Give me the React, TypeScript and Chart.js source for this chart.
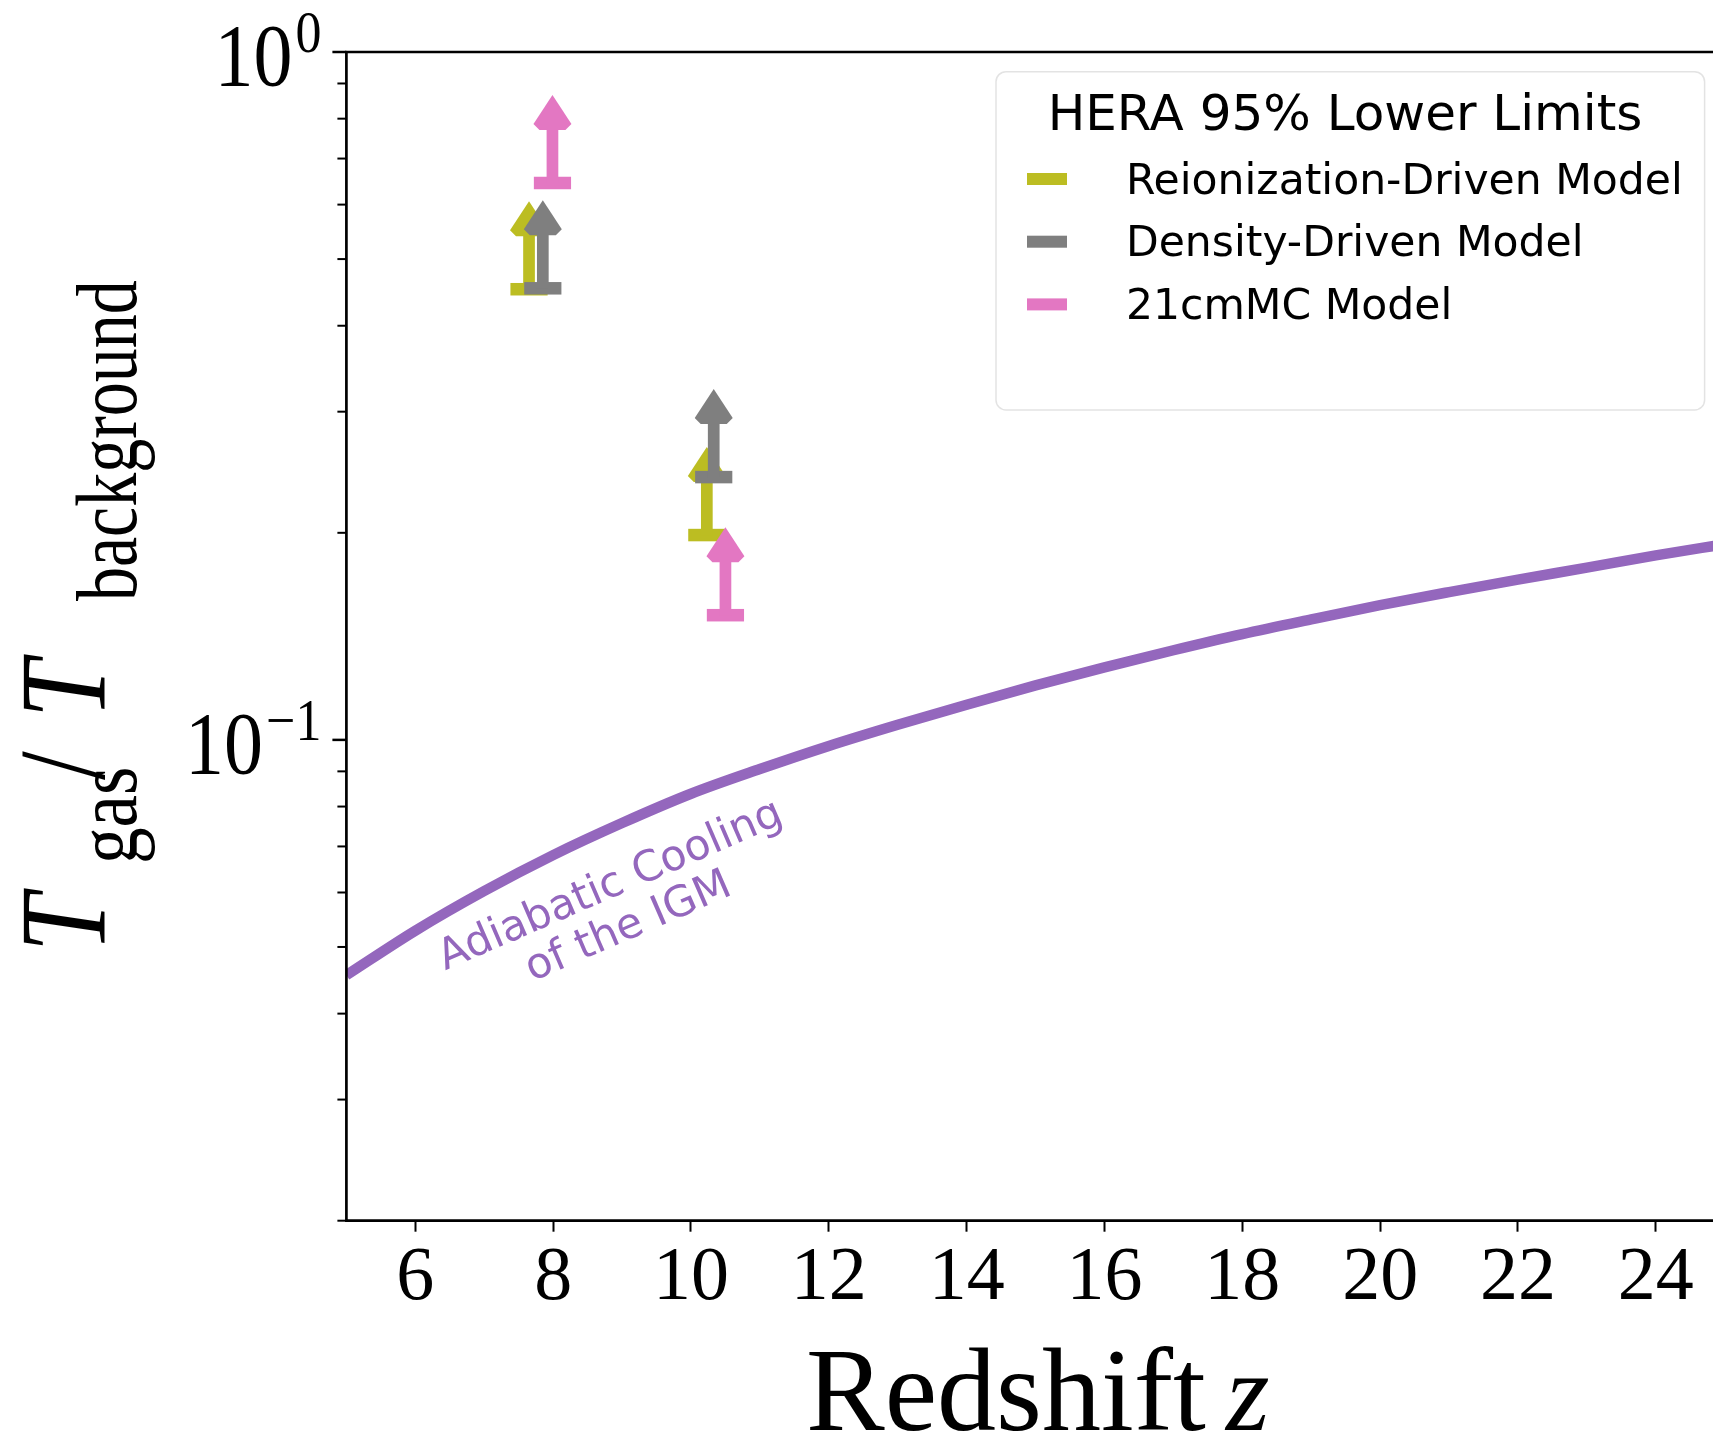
import React, { useEffect, useRef } from 'react';
import { Chart, registerables } from 'chart.js';

Chart.register(...registerables);

// ---------------- data ----------------
const CURVE_Z = [5, 6, 7, 8, 9, 10, 11, 12, 13, 14, 15, 16, 17, 18, 19, 20, 21, 22, 23, 24, 25];
const CURVE_RATIO = [0.0455, 0.0528, 0.0603, 0.068, 0.0757, 0.0835, 0.0907, 0.098, 0.1052, 0.1125, 0.12, 0.1275, 0.135, 0.1425, 0.1497, 0.157, 0.164, 0.171, 0.178, 0.1855, 0.1925];
const CURVE_LABEL_LINES = ['Adiabatic Cooling', 'of the IGM'];
const CURVE_LABEL_Z = 8.9;
const CURVE_LABEL_RATIO = 0.0592;

const REION_Z = [7.65, 10.23];
const REION_LOWER = [0.452, 0.1985];
const DENSITY_Z = [7.85, 10.33];
const DENSITY_LOWER = [0.4534, 0.241];
const MC_Z = [7.99, 10.5];
const MC_LOWER = [0.645, 0.1518];

const SERIES_NAMES = ['Reionization-Driven Model', 'Density-Driven Model', '21cmMC Model'];
const SERIES_COLORS = ['#bcbd22', '#7f7f7f', '#e377c2'];
const CURVE_COLOR = '#9467bd';
const LEGEND_TITLE = 'HERA 95% Lower Limits';

const X_MIN = 5;
const X_MAX = 24.83;
const Y_MIN = 0.02;
const Y_MAX = 1;
const X_TICKS = [6, 8, 10, 12, 14, 16, 18, 20, 22, 24];
const Y_MAJOR_TICKS = [0.1, 1];
const Y_MAJOR_LABELS = [['10', '\u22121'], ['10', '0']];
const Y_MINOR_TICKS = [0.02, 0.03, 0.04, 0.05, 0.06, 0.07, 0.08, 0.09, 0.2, 0.3, 0.4, 0.5, 0.6, 0.7, 0.8, 0.9];
const X_TITLE = 'Redshift';
const X_TITLE_VAR = 'z';
const Y_TITLE_PARTS = ['T', 'gas', '/', 'T', 'background'];

// ---------------- styles ----------------
const W = 1713;
const H = 1438;
const SERIF = '"Liberation Serif", "Times New Roman", serif';
const SANS = '"DejaVu Sans", "Noto Sans", sans-serif';
const ARROW = { length: 88, headLen: 29, headHalf: 19, notch: 6, stem: 11.7, capHalf: 18.6, capH: 12.5 };

function drawLimit(ctx: CanvasRenderingContext2D, px: number, py: number, color: string) {
  const a = ARROW;
  ctx.save();
  ctx.fillStyle = color;
  ctx.fillRect(px - a.capHalf, py - a.capH / 2, a.capHalf * 2, a.capH);
  ctx.fillRect(px - a.stem / 2, py - a.length + a.headLen, a.stem, a.length - a.headLen);
  ctx.beginPath();
  ctx.moveTo(px, py - a.length);
  ctx.lineTo(px + a.headHalf, py - a.length + a.headLen);
  ctx.lineTo(px + a.headHalf - a.notch, py - a.length + a.headLen + a.notch);
  ctx.lineTo(px - a.headHalf + a.notch, py - a.length + a.headLen + a.notch);
  ctx.lineTo(px - a.headHalf, py - a.length + a.headLen);
  ctx.closePath();
  ctx.fill();
  ctx.restore();
}

const overlay = {
  id: 'overlay',
  afterDatasetsDraw(chart: any) {
    const ctx: CanvasRenderingContext2D = chart.ctx;
    chart.data.datasets.forEach((ds: any, i: number) => {
      if (!ds.isLimit) return;
      const meta = chart.getDatasetMeta(i);
      meta.data.forEach((pt: any) => drawLimit(ctx, pt.x, pt.y, ds.borderColor));
    });
  },
  afterDraw(chart: any) {
    const ctx: CanvasRenderingContext2D = chart.ctx;
    const ca = chart.chartArea;
    const y = chart.scales.y;
    ctx.save();
    // spines
    ctx.strokeStyle = '#000';
    ctx.lineWidth = 2.7;
    ctx.lineCap = 'square';
    ctx.beginPath();
    ctx.moveTo(ca.right, ca.top);
    ctx.lineTo(ca.left, ca.top);
    ctx.lineTo(ca.left, ca.bottom);
    ctx.lineTo(ca.right, ca.bottom);
    ctx.stroke();
    ctx.lineCap = 'butt';
    // y ticks
    ctx.lineWidth = 2;
    Y_MINOR_TICKS.forEach((v) => {
      const py = y.getPixelForValue(v);
      ctx.beginPath();
      ctx.moveTo(ca.left, py);
      ctx.lineTo(ca.left - 9, py);
      ctx.stroke();
    });
    ctx.lineWidth = 2.5;
    Y_MAJOR_TICKS.forEach((v, i) => {
      const py = y.getPixelForValue(v);
      ctx.beginPath();
      ctx.moveTo(ca.left, py);
      ctx.lineTo(ca.left - 14, py);
      ctx.stroke();
      const [base, exp] = Y_MAJOR_LABELS[i];
      ctx.save();
      ctx.fillStyle = '#000';
      ctx.textBaseline = 'alphabetic';
      ctx.textAlign = 'right';
      const right = ca.left - 25;
      ctx.translate(0, py + 33);
      ctx.scale(1, 1.13);
      ctx.font = `52px ${SERIF}`;
      const ew = ctx.measureText(exp).width;
      ctx.fillText(exp, right, -29);
      ctx.font = `78px ${SERIF}`;
      ctx.fillText(base, right - ew - 3, 0);
      ctx.restore();
    });
    // x title
    ctx.fillStyle = '#000';
    ctx.textAlign = 'left';
    ctx.textBaseline = 'alphabetic';
    ctx.font = `118px ${SERIF}`;
    ctx.fillText(X_TITLE, 806, 1430);
    ctx.font = `italic 112px ${SERIF}`;
    ctx.fillText(X_TITLE_VAR, 1226, 1430);
    // y title (rotated, reading upward)
    const pieceStyle: [string, number, number][] = [
      [`italic 122px ${SERIF}`, 952, 0],
      [`86px ${SERIF}`, 864, 32],
      [`122px ${SERIF}`, 780, 0],
      [`italic 122px ${SERIF}`, 718, 0],
      [`86px ${SERIF}`, 601, 32],
    ];
    Y_TITLE_PARTS.forEach((t, i) => {
      const [f, sy, shift] = pieceStyle[i];
      ctx.save();
      ctx.translate(104 + shift, sy);
      ctx.rotate(-Math.PI / 2);
      ctx.scale(i === 4 ? 0.79 : 0.85, 1);
      ctx.font = f;
      ctx.fillText(t, 0, 0);
      ctx.restore();
    });
    // curve label
    ctx.save();
    ctx.translate(chart.scales.x.getPixelForValue(CURVE_LABEL_Z), y.getPixelForValue(CURVE_LABEL_RATIO));
    ctx.rotate((-23.5 * Math.PI) / 180);
    ctx.fillStyle = CURVE_COLOR;
    ctx.font = `42.5px ${SANS}`;
    ctx.textAlign = 'center';
    CURVE_LABEL_LINES.forEach((line, i) => ctx.fillText(line, 0, i * 45));
    ctx.restore();
    // legend
    const bx = 996, by = 71.7, bw = 708.6, bh = 338.3;
    ctx.beginPath();
    (ctx as any).roundRect(bx, by, bw, bh, 10);
    ctx.fillStyle = 'rgba(255,255,255,0.8)';
    ctx.fill();
    ctx.strokeStyle = 'rgba(220,220,220,0.8)';
    ctx.lineWidth = 1.5;
    ctx.stroke();
    ctx.fillStyle = '#000';
    ctx.textAlign = 'center';
    ctx.font = `50px ${SANS}`;
    ctx.fillText(LEGEND_TITLE, 1345, 130);
    ctx.textAlign = 'left';
    ctx.font = `42.5px ${SANS}`;
    SERIES_NAMES.forEach((name, i) => {
      const cy = 179 + i * 62.7;
      ctx.fillStyle = SERIES_COLORS[i];
      ctx.fillRect(1027, cy - 6, 40, 12);
      ctx.fillStyle = '#000';
      ctx.fillText(name, 1126, cy + 14.5);
    });
    ctx.restore();
  },
};

export default function App() {
  const ref = useRef<HTMLCanvasElement>(null);
  useEffect(() => {
    const canvas = ref.current;
    if (!canvas) return;
    const limitSets = [
      [REION_Z, REION_LOWER],
      [DENSITY_Z, DENSITY_LOWER],
      [MC_Z, MC_LOWER],
    ];
    const chart = new Chart(canvas, {
      type: 'scatter',
      data: {
        datasets: [
          {
            label: 'Adiabatic Cooling of the IGM',
            data: CURVE_Z.map((z, i) => ({ x: z, y: CURVE_RATIO[i] })),
            showLine: true,
            borderColor: CURVE_COLOR,
            backgroundColor: CURVE_COLOR,
            borderWidth: 10.5,
            pointRadius: 0,
            cubicInterpolationMode: 'monotone',
            clip: 0,
          } as any,
          ...limitSets.map(([zs, lows], i) => ({
            label: SERIES_NAMES[i],
            data: zs.map((z, j) => ({ x: z, y: lows[j] })),
            borderColor: SERIES_COLORS[i],
            backgroundColor: SERIES_COLORS[i],
            pointRadius: 0,
            showLine: false,
            isLimit: true,
          })) as any,
        ],
      },
      options: {
        responsive: false,
        animation: false,
        layout: { padding: { top: 52, left: 0, right: 0, bottom: 0 } },
        plugins: { legend: { display: false }, tooltip: { enabled: false } },
        scales: {
          x: {
            type: 'linear',
            min: X_MIN,
            max: X_MAX,
            afterBuildTicks: (s: any) => {
              s.ticks = X_TICKS.map((v) => ({ value: v }));
            },
            afterFit: (s: any) => {
              s.height = 217.3;
            },
            grid: { drawOnChartArea: false, drawTicks: true, tickLength: 11, tickWidth: 2, tickColor: '#000', color: '#000' },
            border: { display: false },
            ticks: { font: { family: SERIF, size: 76 }, color: '#000', padding: 2, maxRotation: 0, autoSkip: false },
          },
          y: {
            type: 'logarithmic',
            min: Y_MIN,
            max: Y_MAX,
            afterFit: (s: any) => {
              s.width = 346.4;
            },
            grid: { display: false },
            border: { display: false },
            ticks: { display: false },
          },
        },
      } as any,
      plugins: [overlay],
    });
    return () => chart.destroy();
  }, []);
  return (
    <div style={{ position: 'fixed', left: 0, top: 0, width: W, height: H, background: '#fff' }}>
      <canvas ref={ref} width={W} height={H} style={{ display: 'block', width: W, height: H }} />
    </div>
  );
}
